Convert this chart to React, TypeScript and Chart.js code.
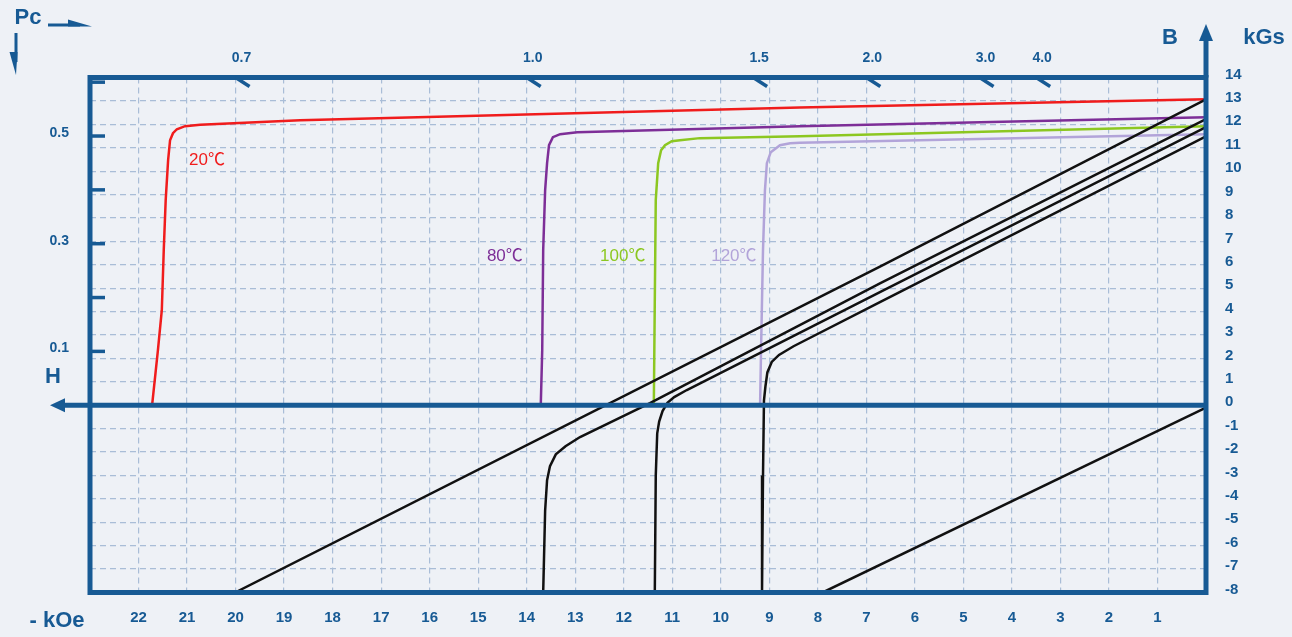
import React, { useEffect, useRef } from 'react';
import { Chart, registerables } from 'chart.js';

Chart.register(...registerables);

// ---- axis ticks ----
const H_TICKS = [22, 21, 20, 19, 18, 17, 16, 15, 14, 13, 12, 11, 10, 9, 8, 7, 6, 5, 4, 3, 2, 1];
const B_TICKS = [14, 13, 12, 11, 10, 9, 8, 7, 6, 5, 4, 3, 2, 1, 0, -1, -2, -3, -4, -5, -6, -7, -8];
const H_MIN = 0;
const H_MAX = 23;
const B_MIN = -8;
const B_MAX = 14;
const PC_LEFT_MARKS = [0.1, 0.2, 0.3, 0.4, 0.5, 0.6];
const PC_LEFT_LABELS = [0.1, 0.3, 0.5];
const PC_TOP = [0.7, 1.0, 1.5, 2.0, 3.0, 4.0];

// ---- intrinsic curves (colored) ----
const J20_H = [21.72, 21.6, 21.52, 21.48, 21.44, 21.39, 21.35, 21.29, 21.21, 21.04, 20.73, 18.67, 8.37, 0];
const J20_B = [0, 2.35, 4.06, 6.62, 8.76, 10.47, 11.32, 11.62, 11.79, 11.92, 11.98, 12.17, 12.72, 13.07];
const J80_H = [13.71, 13.68, 13.66, 13.62, 13.58, 13.54, 13.46, 13.31, 12.96, 8.37, 0];
const J80_B = [0, 2.35, 6.62, 9.18, 10.34, 11.11, 11.45, 11.58, 11.66, 11.92, 12.3];
const J100_H = [11.38, 11.36, 11.34, 11.29, 11.23, 11.15, 11.01, 10.84, 10.43, 8.37, 0];
const J100_B = [0, 4.49, 8.76, 10.34, 10.89, 11.11, 11.28, 11.32, 11.41, 11.49, 11.92];
const J120_H = [9.19, 9.17, 9.13, 9.09, 9.05, 8.97, 8.78, 8.57, 8.37, 0];
const J120_B = [0, 2.35, 6.62, 9.18, 10.34, 10.81, 11.11, 11.19, 11.21, 11.58];

// ---- normal curves (black) ----
const B20_H = [0, 6.72, 20.01];
const B20_B = [13.07, 5.92, -8];
const B80_H = [0, 6.72, 11.46, 12.9, 13.2, 13.4, 13.52, 13.58, 13.62, 13.66];
const B80_B = [12.22, 5.21, 0.09, -1.36, -1.75, -2.1, -2.6, -3.2, -4.5, -8];
const B100_H = [0, 6.72, 10.7, 10.96, 11.1, 11.2, 11.27, 11.31, 11.34, 11.36];
const B100_B = [11.88, 4.83, 0.65, 0.35, 0.1, -0.25, -0.7, -1.2, -3, -8];
const B120_H = [0, 6.72, 8.5, 8.8, 8.95, 9.04, 9.08, 9.11, 9.13, 9.15];
const B120_B = [11.49, 4.4, 2.52, 2.15, 1.85, 1.4, 0.8, 0.2, -3, -8];
const REF_H = [0, 7.9];
const REF_B = [-0.1, -8];

// ---- temperature labels ----
const TEMP_TEXT = ['20℃', '80℃', '100℃', '120℃'];
const TEMP_H = [20.59, 14.45, 12.02, 9.73];
const TEMP_B = [10.47, 6.36, 6.36, 6.36];

const BLUE = '#175a94';
const BG = '#eef1f6';
const GRID = '#a9bdd7';
const FONT = "'Liberation Sans', Arial, sans-serif";
const RED = '#f01c1c';
const PURPLE = '#7d2e97';
const GREEN = '#8cc721';
const LAVENDER = '#b2a4d9';
const BLACK = '#111111';
const TEMP_COLORS = [RED, PURPLE, GREEN, LAVENDER];

const zip = (hs: number[], bs: number[]) => hs.map((h, i) => ({ x: h, y: bs[i] }));

const decor = {
  id: 'decor',
  afterDatasetsDraw(chart: any) {
    const { ctx, chartArea: a, scales } = chart;
    const xs = scales.x;
    const ys = scales.y;
    ctx.save();

    // temperature labels
    ctx.font = `17px ${FONT}, 'Noto Sans CJK SC'`;
    ctx.textAlign = 'center';
    ctx.textBaseline = 'middle';
    TEMP_TEXT.forEach((t, i) => {
      ctx.fillStyle = TEMP_COLORS[i];
      ctx.fillText(t, xs.getPixelForValue(TEMP_H[i]), ys.getPixelForValue(TEMP_B[i]));
    });

    ctx.strokeStyle = BLUE;
    ctx.fillStyle = BLUE;
    ctx.lineCap = 'butt';

    // frame
    ctx.lineWidth = 5;
    ctx.strokeRect(a.left, a.top, a.right - a.left, a.bottom - a.top);

    // H axis (B = 0) with arrow to the left
    const y0 = ys.getPixelForValue(0);
    ctx.beginPath();
    ctx.moveTo(a.left - 28, y0);
    ctx.lineTo(a.right, y0);
    ctx.stroke();
    ctx.beginPath();
    ctx.moveTo(a.left - 40, y0);
    ctx.lineTo(a.left - 25, y0 - 7);
    ctx.lineTo(a.left - 25, y0 + 7);
    ctx.closePath();
    ctx.fill();

    // B axis arrow up
    const x0 = xs.getPixelForValue(0);
    ctx.beginPath();
    ctx.moveTo(x0, a.top);
    ctx.lineTo(x0, 36);
    ctx.stroke();
    ctx.beginPath();
    ctx.moveTo(x0, 24);
    ctx.lineTo(x0 - 7, 41);
    ctx.lineTo(x0 + 7, 41);
    ctx.closePath();
    ctx.fill();

    // left Pc marks
    ctx.lineWidth = 3.5;
    PC_LEFT_MARKS.forEach((pc) => {
      const yy = ys.getPixelForValue(pc * H_MAX);
      ctx.beginPath();
      ctx.moveTo(a.left, yy);
      ctx.lineTo(a.left + 15, yy);
      ctx.stroke();
    });

    // top Pc marks and labels
    ctx.font = `bold 14px ${FONT}`;
    ctx.textAlign = 'center';
    ctx.textBaseline = 'middle';
    PC_TOP.forEach((pc) => {
      const xx = xs.getPixelForValue(B_MAX / pc);
      ctx.beginPath();
      ctx.moveTo(xx, a.top);
      ctx.lineTo(xx + 14, a.top + 9);
      ctx.stroke();
      ctx.fillText(pc.toFixed(1), xx + 6, 58);
    });

    // titles
    ctx.font = `bold 22px ${FONT}`;
    ctx.fillText('Pc', 28, 18);
    ctx.fillText('H', 53, 377);
    ctx.fillText('B', 1170, 38);
    ctx.fillText('kGs', 1264, 38);
    ctx.fillText('- kOe', 57, 621);

    // Pc harpoons
    ctx.lineWidth = 3;
    ctx.beginPath();
    ctx.moveTo(48, 25);
    ctx.lineTo(80, 25);
    ctx.stroke();
    ctx.beginPath();
    ctx.moveTo(68, 19.5);
    ctx.lineTo(92, 26.5);
    ctx.lineTo(68, 26.5);
    ctx.closePath();
    ctx.fill();
    ctx.beginPath();
    ctx.moveTo(16, 33);
    ctx.lineTo(16, 62);
    ctx.stroke();
    ctx.beginPath();
    ctx.moveTo(9.5, 52);
    ctx.lineTo(17.5, 52);
    ctx.lineTo(16, 75);
    ctx.closePath();
    ctx.fill();

    ctx.restore();
  },
};

export default function App() {
  const ref = useRef<HTMLCanvasElement | null>(null);

  useEffect(() => {
    if (!ref.current) return;
    const line = (data: any, color: string, w = 2.5) => ({
      data,
      borderColor: color,
      backgroundColor: color,
      borderWidth: w,
      pointRadius: 0,
      tension: 0,
      fill: false,
    });
    const tickFont = { family: FONT, weight: 'bold' as const, size: 15 };
    const chart = new Chart(ref.current, {
      type: 'line',
      data: {
        datasets: [
          line(zip(REF_H, REF_B), BLACK),
          line(zip(B20_H, B20_B), BLACK),
          line(zip(B80_H, B80_B), BLACK),
          line(zip(B100_H, B100_B), BLACK),
          line(zip(B120_H, B120_B), BLACK),
          line(zip(J120_H, J120_B), LAVENDER),
          line(zip(J100_H, J100_B), GREEN),
          line(zip(J80_H, J80_B), PURPLE),
          line(zip(J20_H, J20_B), RED),
        ],
      },
      options: {
        animation: false,
        responsive: false,
        layout: { padding: { left: 10, top: 77.5, right: 0, bottom: 0 } },
        plugins: { legend: { display: false }, tooltip: { enabled: false } },
        scales: {
          x: {
            type: 'linear',
            reverse: true,
            min: H_MIN,
            max: H_MAX,
            afterBuildTicks: (s: any) => {
              s.ticks = [H_MIN, ...H_TICKS, H_MAX].sort((p, q) => p - q).map((v) => ({ value: v }));
            },
            afterFit: (s: any) => {
              s.height = 44.5;
            },
            ticks: {
              autoSkip: false,
              maxRotation: 0,
              padding: 16,
              color: BLUE,
              font: tickFont,
              callback: (v: any) => (H_TICKS.includes(Number(v)) ? String(v) : ''),
            },
            grid: { color: GRID, lineWidth: 1.2, drawTicks: false },
            border: { display: false, dash: [6, 4] },
          },
          y: {
            type: 'linear',
            position: 'right',
            min: B_MIN,
            max: B_MAX,
            afterBuildTicks: (s: any) => {
              s.ticks = [...B_TICKS].sort((p, q) => p - q).map((v) => ({ value: v }));
            },
            afterFit: (s: any) => {
              s.width = 86;
            },
            ticks: {
              autoSkip: false,
              padding: 19,
              labelOffset: -3,
              color: BLUE,
              font: tickFont,
              callback: (v: any) => String(v),
            },
            grid: { color: GRID, lineWidth: 1.2, drawTicks: false },
            border: { display: false, dash: [6, 4] },
          },
          pc: {
            type: 'linear',
            position: 'left',
            min: B_MIN / H_MAX,
            max: B_MAX / H_MAX,
            afterBuildTicks: (s: any) => {
              s.ticks = PC_LEFT_LABELS.map((v) => ({ value: v }));
            },
            afterFit: (s: any) => {
              s.width = 80;
            },
            ticks: {
              autoSkip: false,
              padding: 21,
              labelOffset: -3,
              color: BLUE,
              font: { family: FONT, weight: 'bold' as const, size: 14 },
              callback: (v: any) => Number(v).toFixed(1),
            },
            grid: { display: false, drawTicks: false },
            border: { display: false },
          },
        },
      } as any,
      plugins: [decor],
    });
    return () => chart.destroy();
  }, []);

  return (
    <div style={{ position: 'fixed', left: 0, top: 0, width: 1292, height: 637, background: BG }}>
      <canvas ref={ref} width={1292} height={637} style={{ display: 'block' }} />
    </div>
  );
}
